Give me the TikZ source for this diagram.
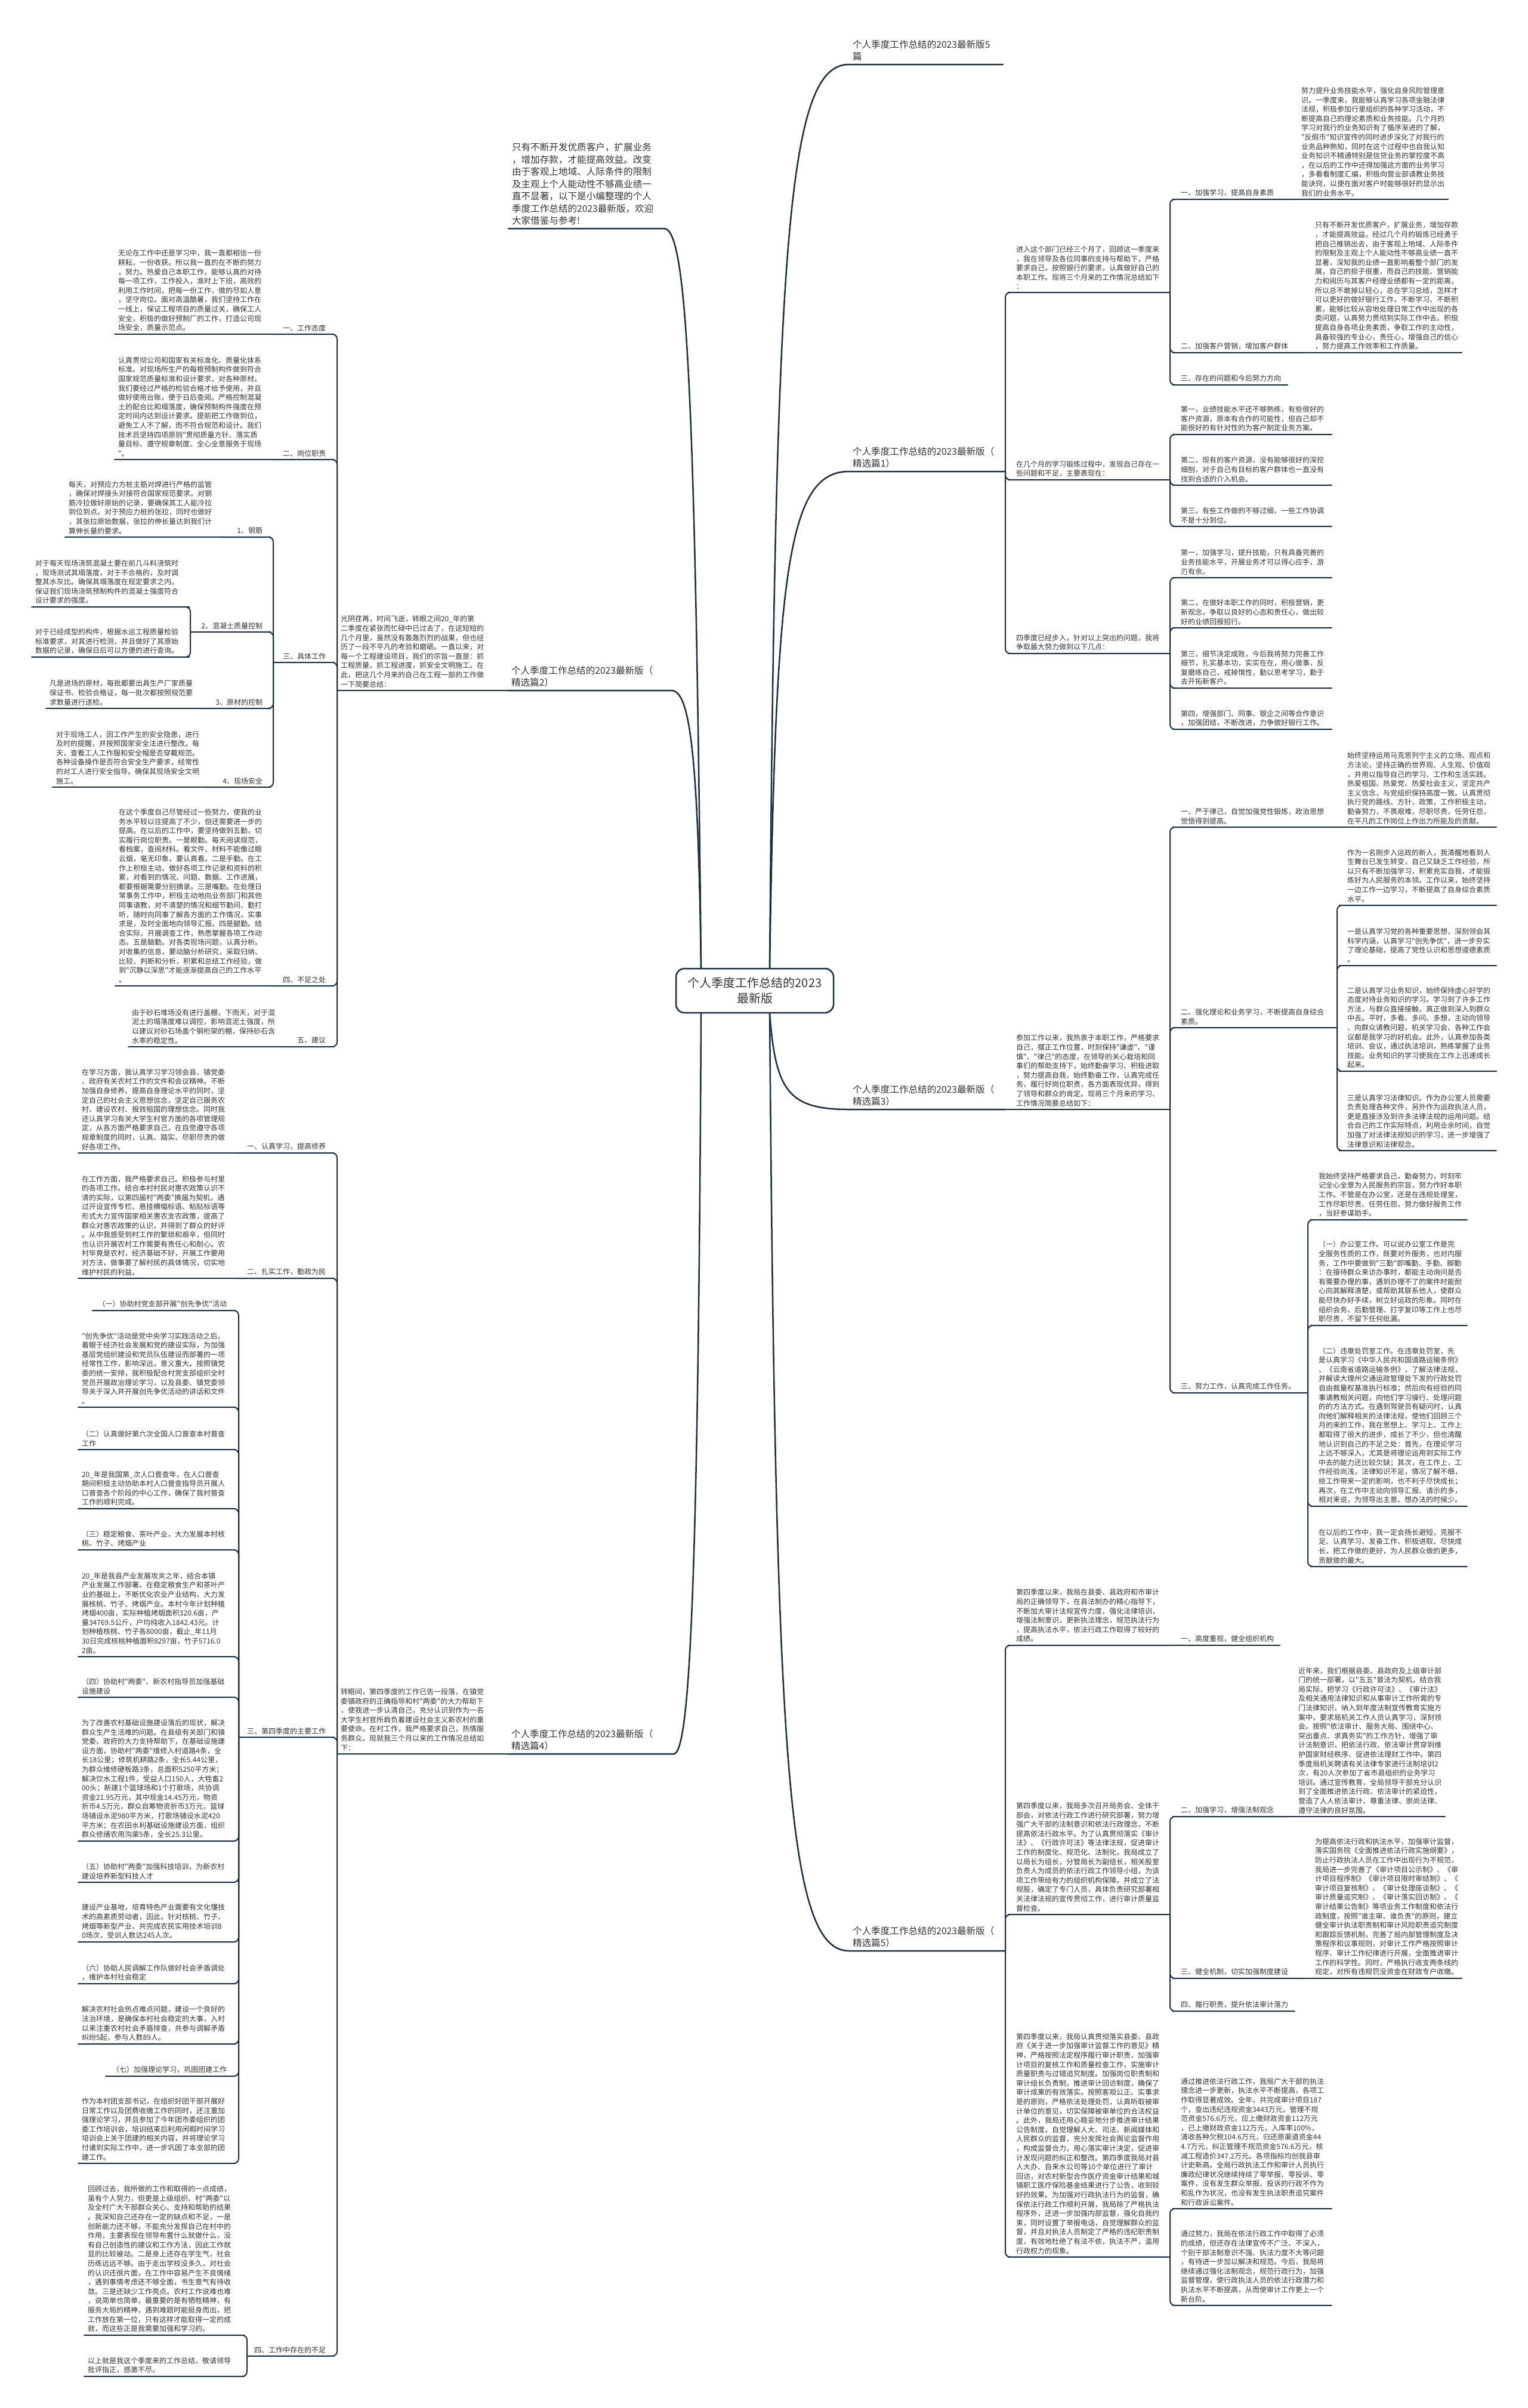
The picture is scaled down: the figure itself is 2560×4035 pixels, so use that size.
\documentclass[tikz,border=0pt]{standalone}
\usepackage{fontspec}
\newfontfamily\cjk{Noto Sans CJK SC}
\definecolor{branchline}{HTML}{1C2E3D}
\definecolor{notetext}{HTML}{333333}
\newcommand{\notefont}{\cjk\fontsize{12pt}{15.6pt}\selectfont}
\newcommand{\headfont}{\cjk\fontsize{15.6pt}{20.5pt}\selectfont}
\newcommand{\rootfont}{\cjk\fontsize{20pt}{26pt}\selectfont}
\begin{document}
\begin{tikzpicture}[x=1pt,y=-1pt,
  note/.style={font=\notefont,text=notetext,align=left,inner xsep=6pt,inner ysep=5pt,outer sep=0pt},
  rnote/.style={note,anchor=south west},
  lnote/.style={note,anchor=south east},
  rhead/.style={rnote,font=\headfont,inner ysep=6pt},
  lhead/.style={lnote,font=\headfont,inner ysep=6pt},
  root/.style={draw=branchline,line width=2.5pt,rounded corners=14pt,fill=white,font=\rootfont,text=notetext,align=center,minimum width=264pt,minimum height=74pt},
  link/.style={draw=branchline,line width=2pt,rounded corners=8pt,line cap=round},
  trunk/.style={draw=branchline,line width=2.5pt,line cap=round}
]
\fill[white] (0,0) rectangle (2560,4035);
\useasboundingbox (0,0) rectangle (2560,4035);

% centre
\node[root] (root) at (1265,1660) {个人季度工作总结的2023\\最新版};

% ---- right side ----
\node[rhead,text width=246pt] (top5) at (1423,108) {个人季度工作总结的2023最新版5\\篇};
\node[rhead,text width=250pt] (sel1) at (1423,790) {个人季度工作总结的2023最新版（\\精选篇1）};
\node[rhead,text width=250pt] (sel3) at (1423,1859) {个人季度工作总结的2023最新版（\\精选篇3）};
\node[rhead,text width=250pt] (sel5) at (1423,3269) {个人季度工作总结的2023最新版（\\精选篇5）};

% 精选篇1
\node[rnote,text width=252pt] (a1) at (1697,490) {进入这个部门已经三个月了，回顾这一季度来\\，我在领导及各位同事的支持与帮助下，严格\\要求自己，按照银行的要求，认真做好自己的\\本职工作。现将三个月来的工作情况总结如下\\：};
\node[rnote,text width=182pt] (a1x) at (1973,334) {一、加强学习，提高自身素质};
\node[rnote,text width=240pt] (a1xd) at (2175,334) {努力提升业务技能水平，强化自身风险管理意\\识。一季度来，我能够认真学习各项金融法律\\法规，积极参加行里组织的各种学习活动，不\\断提高自己的理论素质和业务技能。几个月的\\学习对我行的业务知识有了循序渐进的了解，\\"反假币"知识宣传的同时进步深化了对我行的\\业务品种熟知，同时在这个过程中也自我认知\\业务知识不精通特别是信贷业务的掌控度不高\\，在以后的工作中还得加强这方面的业务学习\\，多看看制度汇编，积极向营业部请教业务技\\能诀窍，以便在面对客户时能够很好的显示出\\我们的业务水平。};
\node[rnote,text width=202pt] (a1y) at (1973,591) {二、加强客户营销，增加客户群体};
\node[rnote,text width=240pt] (a1yd) at (2198,591) {只有不断开发优质客户，扩展业务，增加存款\\，才能提高效益。经过几个月的锻炼已经勇于\\把自己推销出去，由于客观上地域、人际条件\\的限制及主观上个人能动性不够高业绩一直不\\显著，深知我的业绩一直影响着整个部门的发\\展，自己的担子很重，而自己的技能、营销能\\力和阅历与其客户经理业绩都有一定的距离，\\所以总不敢掉以轻心，总在学习总结，怎样才\\可以更好的做好银行工作，不断学习、不断积\\累，能够比较从容地处理日常工作中出现的各\\类问题，认真努力贯彻到实际工作中去。积极\\提高自身各项业务素质，争取工作的主动性，\\具备较强的专业心，责任心，增强自己的信心\\，努力提高工作效率和工作质量。};
\node[rnote,text width=173pt] (a1z) at (1973,645) {三、存在的问题和今后努力方向};
\node[rnote,text width=252pt] (a2) at (1697,804) {在几个月的学习锻炼过程中，发现自己存在一\\些问题和不足，主要表现在：};
\node[rnote,text width=247pt] (a2x) at (1973,728) {第一，业绩技能水平还不够熟练，有些很好的\\客户资源，原本有合作的可能性，但自己却不\\能很好的有针对性的为客户制定业务方案。};
\node[rnote,text width=247pt] (a2y) at (1973,813) {第二，现有的客户资源，没有能够很好的深挖\\细刨，对于自己有目标的客户群体也一直没有\\找到合适的介入机会。};
\node[rnote,text width=247pt] (a2z) at (1973,882) {第三，有些工作做的不够过细，一些工作协调\\不是十分到位。};
\node[rnote,text width=252pt] (a3) at (1697,1095) {四季度已经步入，针对以上突出的问题，我将\\争取最大努力做到以下几点：};
\node[rnote,text width=247pt] (a3w) at (1973,968) {第一，加强学习，提升技能，只有具备完善的\\业务技能水平，开展业务才可以得心应手，游\\刃有余。};
\node[rnote,text width=247pt] (a3x) at (1973,1052) {第二，在做好本职工作的同时，积极营销，更\\新观念，争取以良好的心态和责任心，做出较\\好的业绩回报招行。};
\node[rnote,text width=247pt] (a3y) at (1973,1153) {第三，细节决定成败，今后我将努力完善工作\\细节，扎实基本功，实实在在，用心做事，反\\复磨练自己，戒掉惰性，勤以思考学习，勤于\\去开拓新客户。};
\node[rnote,text width=247pt] (a3z) at (1973,1222) {第四，增强部门、同事、银企之间等合作意识\\，加强团结，不断改进，力争做好银行工作。};

% 精选篇3
\node[rnote,text width=252pt] (c1) at (1697,1859) {参加工作以来，我热衷于本职工作，严格要求\\自己，摆正工作位置，时刻保持"谦虚"、"谨\\慎"、"律己"的态度，在领导的关心栽培和同\\事们的帮助支持下，始终勤奋学习、积极进取\\，努力提高自我，始终勤奋工作，认真完成任\\务，履行好岗位职责，各方面表现优异，得到\\了领导和群众的肯定。现将三个月来的学习、\\工作情况简要总结如下：};
\node[rnote,text width=262pt] (c1x) at (1973,1386) {一、严于律己，自觉加强党性锻炼，政治思想\\觉悟得到提高。};
\node[rnote,text width=244pt] (c1xd) at (2252,1386) {始终坚持运用马克思列宁主义的立场、观点和\\方法论，坚持正确的世界观、人生观、价值观\\，并用以指导自己的学习、工作和生活实践。\\热爱祖国、热爱党、热爱社会主义，坚定共产\\主义信念，与党组织保持高度一致。认真贯彻\\执行党的路线、方针、政策，工作积极主动，\\勤奋努力，不畏艰难，尽职尽责，任劳任怨，\\在平凡的工作岗位上作出力所能及的贡献。};
\node[rnote,text width=256pt] (c1y) at (1973,1722) {二、强化理论和业务学习，不断提高自身综合\\素质。};
\node[rnote,text width=244pt] (c1y1) at (2252,1517) {作为一名刚步入运政的新人，我清醒地看到人\\生舞台已发生转变，自己又缺乏工作经验，所\\以只有不断加强学习，积累充实自我，才能锻\\炼好为人民服务的本领。工作以来，始终坚持\\一边工作一边学习，不断提高了自身综合素质\\水平。};
\node[rnote,text width=244pt] (c1y2) at (2252,1618) {一是认真学习党的各种重要思想，深刻领会其\\科学内涵，认真学习"创先争优"，进一步夯实\\了理论基础，提高了党性认识和思想道德素质\\。};
\node[rnote,text width=244pt] (c1y3) at (2252,1795) {二是认真学习业务知识，始终保持虚心好学的\\态度对待业务知识的学习。学习到了许多工作\\方法，与群众直接接触，真正做到深入到群众\\中去。平时，多看、多问、多想，主动向领导\\、向群众请教问题，机关学习会、各种工作会\\议都是我学习的好机会。此外，认真参加各类\\培训、会议，通过执法培训，熟练掌握了业务\\技能。业务知识的学习使我在工作上迅速成长\\起来。};
\node[rnote,text width=244pt] (c1y4) at (2252,1928) {三是认真学习法律知识。作为办公室人员需要\\负责处理各种文件，另外作为运政执法人员，\\更是直接涉及到许多法律法规的运用问题。结\\合自己的工作实际特点，利用业余时间，自觉\\加强了对法律法规知识的学习，进一步增强了\\法律意识和法律观念。};
\node[rnote,text width=207pt] (c1z) at (1973,2334) {三、努力工作，认真完成工作任务。};
\node[rnote,text width=243pt] (c1z1) at (2204,2044) {我始终坚持严格要求自己，勤奋努力，时刻牢\\记全心全意为人民服务的宗旨，努力作好本职\\工作。不管是在办公室，还是在违规处理室，\\工作尽职尽责、任劳任怨，努力做好服务工作\\，当好参谋助手。};
\node[rnote,text width=243pt] (c1z2) at (2204,2221) {（一）办公室工作。可以说办公室工作是完\\全服务性质的工作，既要对外服务，也对内服\\务，工作中要做到"三勤"即嘴勤、手勤、脚勤\\：在接待群众来访办事时，都能主动询问是否\\有需要办理的事，遇到办理不了的案件时能耐\\心向其解释清楚，或帮助其联系他人，使群众\\能尽快办好手续，树立好运政的形象。同时在\\组织会务、后勤管理、打字复印等工作上也尽\\职尽责，不留下任何纰漏。};
\node[rnote,text width=243pt] (c1z3) at (2204,2524) {（二）违章处罚室工作。在违章处罚室，先\\是认真学习《中华人民共和国道路运输条例》\\、《云南省道路运输条例》，了解法律法规，\\并解读大理州交通运政管理处下发的行政处罚\\自由裁量权基准执行标准；然后向有经验的同\\事请教相关问题，向他们学习操行、处理问题\\的的方法方式。在遇到驾驶员有疑问时，认真\\向他们解释相关的法律法规，使他们回顾三个\\月的来的工作，我在思想上、学习上、工作上\\都取得了很大的进步，成长了不少，但也清醒\\地认识到自己的不足之处：首先，在理论学习\\上远不够深入，尤其是将理论运用到实际工作\\中去的能力还比较欠缺；其次，在工作上，工\\作经验尚浅，法律知识不足，情况了解不细，\\给工作带来一定的影响，也不利于尽快成长；\\再次，在工作中主动向领导汇报、请示的多，\\相对来说，为领导出主意、想办法的时候少。};
\node[rnote,text width=243pt] (c1z4) at (2204,2625) {在以后的工作中，我一定会扬长避短，克服不\\足、认真学习、发奋工作、积极进取、尽快成\\长，把工作做的更好，为人民群众做的更多，\\贡献做的最大。};

% 精选篇5
\node[rnote,text width=252pt] (e1) at (1697,2757) {第四季度以来，我局在县委、县政府和市审计\\局的正确领导下，在县法制办的精心指导下，\\不断加大审计法规宣传力度，强化法律培训，\\增强法制意识，更新执法理念，规范执法行为\\，提高执法水平，依法行政工作取得了较好的\\成绩。};
\node[rnote,text width=160pt] (e1x) at (1973,2757) {一、高度重视，健全组织机构};
\node[rnote,text width=252pt] (e2) at (1697,3208) {第四季度以来，我局多次召开局务会、全体干\\部会，对依法行政工作进行研究部署，努力增\\强广大干部的法制意识和依法行政理念，不断\\提高依法行政水平。为了认真贯彻落实《审计\\法》、《行政许可法》等法律法规，促进审计\\工作的制度化、规范化、法制化，我局成立了\\以局长为组长，分管局长为副组长，相关股室\\负责人为成员的依法行政工作领导小组，为该\\项工作带给有力的组织机构保障。并成立了法\\规股，确定了专门人员，具体负责研究部署相\\关法律法规的宣传贯彻工作，进行审计质量监\\督检查。};
\node[rnote,text width=175pt] (e2x) at (1973,3044) {二、加强学习，增强法制观念};
\node[rnote,text width=240pt] (e2xd) at (2170,3044) {近年来，我们根据县委、县政府及上级审计部\\门的统一部署，以"五五"普法为契机，结合我\\局实际，把学习《行政许可法》、《审计法》\\及相关通用法律知识和从事审计工作所需的专\\门法律知识，纳入到年度法制宣传教育实施方\\案中，要求局机关工作人员认真学习，深刻领\\会。按照"依法审计、服务大局、围绕中心、\\突出重点、求真务实"的工作方针，增强了审\\计法制意识，把依法行政、依法审计贯穿到维\\护国家财经秩序、促进依法理财工作中。第四\\季度局机关聘请有关法律专家进行法制培训2\\次，有20人次参加了省市县组织的业务学习\\培训。通过宣传教育，全局领导干部充分认识\\到了全面推进依法行政、依法审计的紧迫性，\\营造了人人依法审计、尊重法律、崇尚法律、\\遵守法律的良好氛围。};
\node[rnote,text width=202pt] (e2y) at (1973,3315) {三、健全机制，切实加强制度建设};
\node[rnote,text width=240pt] (e2yd) at (2198,3315) {为提高依法行政和执法水平，加强审计监督，\\落实国务院《全面推进依法行政实施纲要》，\\防止行政执法人员在工作中出现行为不规范，\\我局进一步完善了《审计项目公示制》、《审\\计项目程序制》《审计项目限时审结制》、《\\审计项目复核制》、《审计处理座谈制》、《\\审计质量追究制》、《审计落实回访制》、《\\审计结果公告制》等项业务工作制度和依法行\\政制度，按照"谁主审、谁负责"的原则，建立\\健全审计执法职责制和审计风险职责追究制度\\和跟踪反馈机制，完善了局内部管理制度及决\\策程序和议事规则，对审计工作严格按照审计\\程序、审计工作纪律进行开展，全面推进审计\\工作的科学性。同时，严格执行收支两条线的\\规定，对所有违规罚没资金在财政专户收缴。};
\node[rnote,text width=185pt] (e2z) at (1973,3370) {四、履行职责，提升依法审计落力};
\node[rnote,text width=252pt] (e3) at (1697,3782) {第四季度以来，我局认真贯彻落实县委、县政\\府《关于进一步加强审计监督工作的意见》精\\神，严格按照法定程序履行审计职责，加强审\\计项目的复核工作和质量检查工作，实施审计\\质量职责与过错追究制度。加强岗位职责制和\\审计组长负责制，推进审计回访制度，确保了\\审计成果的有效落实。按照客观公正、实事求\\是的原则，严格依法处理处罚，认真听取被审\\计单位的意见，切实保障被审单位的合法权益\\。此外，我局还用心稳妥地分步推进审计结果\\公告制度，自觉理解人大、司法、新闻媒体和\\人民群众的监督，充分发挥社会舆论监督作用\\，构成监督合力，用心落实审计决定，促进审\\计发现问题的纠正和整改。第四季度我局对县\\人大办、自来水公司等10个单位进行了审计\\回访，对农村新型合作医疗资金审计结果和城\\镇职工医疗保险基金结果进行了公告，收到较\\好的效果。为加强对行政执法行为的监督，确\\保依法行政工作顺利开展，我局除了严格执法\\程序外，还进一步加强内部监督，强化自我约\\束，同时设置了举报电话，自觉理解群众的监\\督，并且对执法人员制定了严格的违纪职责制\\度，有效地杜绝了有法不依，执法不严，滥用\\行政权力的现象。};
\node[rnote,text width=247pt] (e3x) at (1973,3701) {通过推进依法行政工作，我局广大干部的执法\\理念进一步更新，执法水平不断提高，各项工\\作取得显著成效。全年，共完成审计项目187\\个，查出违纪违规资金3443万元，管理不规\\范资金576.6万元，应上缴财政资金112万元\\，已上缴财政资金112万元，入库率100\%，\\清收各种欠税104.6万元，归还原渠道资金44\\4.7万元，纠正管理不规范资金576.6万元，核\\减工程造价347.2万元。各项指标均创我县审\\计史新高。全局行政执法工作和审计人员执行\\廉政纪律状况继续持续了零举报、零投诉、零\\案件，没有发生群众举报、投诉的行政不作为\\和乱作为状况，也没有发生执法职责追究案件\\和行政诉讼案件。};
\node[rnote,text width=247pt] (e3y) at (1973,3863) {通过努力，我局在依法行政工作中取得了必须\\的成绩，但还存在法律宣传不广泛、不深入，\\个别干部法制意识不强、执法力度不大等问题\\，有待进一步加以解决和规范。今后，我局将\\继续通过强化法制观念，规范行政行为，加强\\监督管理，使行政执法人员的依法行政潜力和\\执法水平不断提高，从而使审计工作更上一个\\新台阶。};

% ---- left side ----
\node[lhead,text width=249pt] (intro) at (1113,383) {只有不断开发优质客户，扩展业务\\，增加存款，才能提高效益。改变\\由于客观上地域、人际条件的限制\\及主观上个人能动性不够高业绩一\\直不显著，以下是小编整理的个人\\季度工作总结的2023最新版，欢迎\\大家借鉴与参考!};
\node[lhead,text width=262pt] (sel2) at (1125,1157) {个人季度工作总结的2023最新版（\\精选篇2）};
\node[lhead,text width=266pt] (sel4) at (1129,2939) {个人季度工作总结的2023最新版（\\精选篇4）};

% 精选篇2
\node[lnote,text width=248pt] (g1) at (825,1157) {光阴荏苒，时间飞逝，转眼之间20\_年的第\\二季度在紧张而忙碌中已过去了，在这短短的\\几个月里，虽然没有轰轰烈烈的战果，但也经\\历了一段不平凡的考验和磨砺。一直以来，对\\每一个工程建设项目，我们的宗旨一直是：抓\\工程质量，抓工程进度，抓安全文明施工。在\\此，把这几个月来的自己在工程一部的工作做\\一下简要总结：};
\node[lnote,text width=82pt,align=right] (g1a) at (552,560) {一、工作态度};
\node[lnote,text width=246pt] (g1ad) at (450,560) {无论在工作中还是学习中，我一直都相信一份\\耕耘，一份收获。所以我一直的在不断的努力\\，努力。热爱自己本职工作，能够认真的对待\\每一项工作，工作投入，准时上下班，高效的\\利用工作时间，把每一份工作，做的尽如人意\\，坚守岗位。面对高温酷暑，我们坚持工作在\\一线上，保证工程项目的质量过关，确保工人\\安全，积极的做好预制厂的工作，打造公司现\\场安全，质量示范点。};
\node[lnote,text width=82pt,align=right] (g1b) at (552,770) {二、岗位职责};
\node[lnote,text width=246pt] (g1bd) at (450,770) {认真贯彻公司和国家有关标准化、质量化体系\\标准。对现场所生产的每根预制构件做到符合\\国家规范质量标准和设计要求，对各种原材。\\我们要经过严格的检验合格才给予使用，并且\\做好使用台账，便于日后查阅。严格控制混凝\\土的配合比和塌落度，确保预制构件强度在预\\定时间内达到设计要求。提前把工作做到位，\\避免工人不了解，而不符合规范和设计。我们\\技术员坚持四项原则"贯彻质量方针、落实质\\量目标、遵守规章制度、全心全意服务于现场\\"。};
\node[lnote,text width=82pt,align=right] (g1c) at (552,1110) {三、具体工作};
\node[lnote,text width=64pt,align=right] (g1c1) at (446,900) {1、钢筋};
\node[lnote,text width=245pt] (g1c1d) at (366,900) {每天，对预应力方桩主筋对焊进行严格的监管\\，确保对焊接头对接符合国家规范要求。对钢\\筋冷拉做好原始的记录，要确保其工人能冷拉\\到位到点。对于预应力桩的张拉，同时也做好\\，其张拉原始数据，张拉的伸长量达到我们计\\算伸长量的要求。};
\node[lnote,text width=115pt,align=right] (g1c2) at (446,1059) {2、混凝土质量控制};
\node[lnote,text width=245pt] (g1c2a) at (310,1017) {对于每天现场浇筑混凝土要在前几斗料浇筑时\\，现场测试其塌落度，对于不合格的，及时调\\整其水灰比。确保其塌落度在规定要求之内。\\保证我们现场浇筑预制构件的混凝土强度符合\\设计要求的强度。};
\node[lnote,text width=245pt] (g1c2b) at (310,1101) {对于已经成型的构件，根据水运工程质量检验\\标准要求，对其进行检测，并且做好了其原始\\数据的记录，确保日后可以方便的进行查询。};
\node[lnote,text width=99pt,align=right] (g1c3) at (446,1187) {3、原材的控制};
\node[lnote,text width=241pt] (g1c3d) at (330,1187) {凡是进场的原材，每批都要出具生产厂家质量\\保证书、检验合格证，每一批次都按照规范要\\求数量进行送检。};
\node[lnote,text width=90pt,align=right] (g1c4) at (446,1319) {4、现场安全};
\node[lnote,text width=240pt] (g1c4d) at (340,1319) {对于现场工人，因工作产生的安全隐患，进行\\及时的提醒，并按照国家安全法进行整改。每\\天，查看工人工作服和安全帽是否穿戴规范。\\各种设备操作是否符合安全生产要求，经常性\\的对工人进行安全指导。确保其现场安全文明\\施工。};
\node[lnote,text width=84pt,align=right] (g1d) at (552,1652) {四、不足之处};
\node[lnote,text width=245pt] (g1dd) at (450,1652) {在这个季度自己尽管经过一些努力，使我的业\\务水平较以往提高了不少，但还需要进一步的\\提高。在以后的工作中，要坚持做到五勤，切\\实履行岗位职责。一是眼勤。每天阅读规范，\\看档案，查阅材料。看文件、材料不能像过眼\\云烟，毫无印象，要认真看。二是手勤。在工\\作上积极主动，做好各项工作记录和资料的积\\累，对看到的情况、问题、数据、工作进展，\\都要根据需要分别摘录。三是嘴勤。在处理日\\常事务工作中，积极主动地向业务部门和其他\\同事请教，对不清楚的情况和细节勤问、勤打\\听，随时向同事了解各方面的工作情况，实事\\求是，及时全面地向领导汇报。四是腿勤。结\\合实际，开展调查工作，熟悉掌握各项工作动\\态。五是脑勤。对各类现场问题，认真分析。\\对收集的信息，要动脑分析研究，采取归纳、\\比较、判断和分析，积累和总结工作经验，做\\到"沉静以深思"才能逐渐提高自己的工作水平\\。};
\node[lnote,text width=68pt,align=right] (g1e) at (552,1754) {五、建议};
\node[lnote,text width=240pt] (g1ed) at (467,1754) {由于砂石堆场没有进行盖棚，下雨天，对于混\\泥土的塌落度难以调控，影响混泥土强度，所\\以建议对砂石场盖个钢桁架的棚，保持砂石含\\水率的稳定性。};

% 精选篇4
\node[lnote,text width=248pt] (h1) at (825,2939) {转眼间，第四季度的工作已告一段落，在镇党\\委镇政府的正确指导和村"两委"的大力帮助下\\，使我进一步认清自己，充分认识到作为一名\\大学生村官所肩负着建设社会主义新农村的重\\要使命。在村工作，我严格要求自己，热情服\\务群众。现就我三个月以来的工作情况总结如\\下：};
\node[lnote,text width=142pt,align=right] (h1a) at (552,1932) {一、认真学习，提高修养};
\node[lnote,text width=245pt] (h1ad) at (388,1932) {在学习方面，我认真学习学习领会县、镇党委\\、政府有关农村工作的文件和会议精神。不断\\加强自身修养、提高自身理论水平的同时，坚\\定自己的社会主义思想信念，坚定自己服务农\\村、建设农村、报效祖国的理想信念。同时我\\还认真学习有关大学生村官方面的各项管理规\\定，从各方面严格要求自己，在自觉遵守各项\\规章制度的同时，认真、踏实、尽职尽责的做\\好各项工作。};
\node[lnote,text width=142pt,align=right] (h1b) at (552,2142) {二、扎实工作，勤政为民};
\node[lnote,text width=245pt] (h1bd) at (388,2142) {在工作方面，我严格要求自己。积极参与村里\\的各项工作。结合本村村民对惠农政策认识不\\清的实际，以第四届村"两委"换届为契机，通\\过开设宣传专栏、悬挂横幅标语、粘贴标语等\\形式大力宣传国家相关惠农支农政策，提高了\\群众对惠农政策的认识，并得到了群众的好评\\。从中我感受到村工作的繁琐和艰辛，但同时\\也认识开展农村工作需要有责任心和耐心。农\\村毕竟是农村，经济基础不好，开展工作要用\\对方法，做事要了解村民的具体情况，切实地\\维护村民的利益。};
\node[lnote,text width=140pt,align=right] (h1c) at (552,2911) {三、第四季度的主要工作};
\node[lnote,text width=219pt,align=right] (h1c1) at (386,2196) {（一）协助村党支部开展"创先争优"活动};
\node[lnote,text width=243pt] (h1c2) at (386,2358) {"创先争优"活动是党中央学习实践活动之后，\\着眼于经济社会发展和党的建设实际，为加强\\基层党组织建设和党员队伍建设而部署的一项\\经常性工作，影响深远，意义重大。按照镇党\\委的统一安排，我积极配合村党支部组织全村\\党员开展政治理论学习，以及县委、镇党委领\\导关于深入并开展创先争优活动的讲话和文件\\。};
\node[lnote,text width=243pt] (h1c3) at (386,2429) {（二）认真做好第六次全国人口普查本村普查\\工作};
\node[lnote,text width=243pt] (h1c4) at (386,2528) {20\_年是我国第\_次人口普查年，在人口普查\\期间积极主动协助本村人口普查指导员开展人\\口普查各个阶段的中心工作，确保了我村普查\\工作的顺利完成。};
\node[lnote,text width=243pt] (h1c5) at (386,2597) {（三）稳定粮食、茶叶产业，大力发展本村核\\桃、竹子、烤烟产业};
\node[lnote,text width=243pt] (h1c6) at (386,2776) {20\_年是我县产业发展攻关之年，结合本镇\\产业发展工作部署。在稳定粮食生产和茶叶产\\业的基础上，不断优化农业产业结构，大力发\\展核桃、竹子、烤烟产业。本村今年计划种植\\烤烟400亩，实际种植烤烟面积320.6亩，产\\量34769.5公斤，户均纯收入1842.43元。计\\划种植核桃、竹子各8000亩，截止\_年11月\\30日完成核桃种植面积8297亩，竹子5716.0\\2亩。};
\node[lnote,text width=243pt] (h1c7) at (386,2844) {（四）协助村"两委"、新农村指导员加强基础\\设施建设};
\node[lnote,text width=243pt] (h1c8) at (386,3085) {为了改善农村基础设施建设落后的现状，解决\\群众生产生活难的问题。在县级有关部门和镇\\党委、政府的大力支持帮助下，在基础设施建\\设方面，协助村"两委"维修入村道路4条，全\\长18公里；修筑机耕路2条，全长5.44公里，\\为群众维修硬板路3条，总面积5250平方米；\\解决饮水工程1件，受益人口150人，大牲畜2\\00头；新建1个篮球场和1个打歌场，共协调\\资金21.95万元，其中现金14.45万元，物资\\折币4.5万元，群众自筹物资折币3万元，篮球\\场铺设水泥980平方米，打歌场铺设水泥420\\平方米；在农田水利基础设施建设方面，组织\\群众修缮农用沟渠5条，全长25.3公里。};
\node[lnote,text width=243pt] (h1c9) at (386,3154) {（五）协助村"两委"加强科技培训，为新农村\\建设培养新型科技人才};
\node[lnote,text width=243pt] (h1c10) at (386,3254) {建设产业基地，培育特色产业需要有文化懂技\\术的高素质劳动者，因此，针对核桃、竹子、\\烤烟等新型产业，共完成农民实用技术培训8\\0场次，受训人数达245人次。};
\node[lnote,text width=243pt] (h1c11) at (386,3324) {（六）协助人民调解工作队做好社会矛盾调处\\，维护本村社会稳定};
\node[lnote,text width=243pt] (h1c12) at (386,3425) {解决农村社会热点难点问题，建设一个良好的\\法治环境，是确保本村社会稳定的大事，入村\\以来注重农村社会矛盾排查，共参与调解矛盾\\纠纷5起，参与人数89人。};
\node[lnote,text width=197pt,align=right] (h1c13) at (386,3479) {（七）加强理论学习，巩固团建工作};
\node[lnote,text width=243pt] (h1c14) at (386,3625) {作为本村团支部书记，在组织好团干部开展好\\日常工作以及团费收缴工作的同时，还注重加\\强理论学习，并且参加了今年团市委组织的团\\委工作培训会，培训结束后利用闲暇时间学习\\培训会上关于团建的相关内容，并将理论学习\\付诸到实际工作中，进一步巩固了本支部的团\\建工作。};
\node[lnote,text width=126pt,align=right] (h1d) at (552,3948) {四、工作中存在的不足};
\node[lnote,text width=249pt] (h1d1) at (402,3913) {回顾过去，我所做的工作和取得的一点成绩，\\虽有个人努力，但更是上级组织、村"两委"以\\及全村广大干部群众关心、支持和帮助的结果\\。我深知自己还存在一定的缺点和不足，一是\\创新能力还不够，不能充分发挥自己在村中的\\作用，主要表现在领导布置什么就做什么，没\\有自己创造性的建议和工作方法，因此工作就\\显的比较被动。二是身上还存在学生气，社会\\历练远远不够。由于走出学校没多久，对社会\\的认识还很片面，在工作中容易产生不良情绪\\，遇到事情考虑还不够全面，书生意气有待收\\敛。三是还缺少工作亮点。农村工作说难也难\\，说简单也简单，最重要的是有牺牲精神，有\\服务大局的精神，遇到难题时能挺身而出，把\\工作放在第一位，只有这样才能取得一定的成\\就，而这些正是我需要加强和学习的。};
\node[lnote,text width=249pt] (h1d2) at (402,3982) {以上就是我这个季度来的工作总结，敬请领导\\批评指正，感激不尽。};

% main branches from the centre
\draw[trunk] ([xshift=25pt]root.north) .. controls (1300,400) and (1320,108) .. (top5.south west) -- (top5.south east);
\draw[trunk] ([xshift=25pt]root.north) .. controls (1300,957) and (1320,790) .. (sel1.south west) -- (sel1.south east);
\draw[trunk] ([xshift=25pt]root.south) .. controls (1300,1827) and (1320,1859) .. (sel3.south west) -- (sel3.south east);
\draw[trunk] ([xshift=25pt]root.south) .. controls (1300,2955) and (1320,3269) .. (sel5.south west) -- (sel5.south east);
\draw[trunk] ([xshift=-90pt]root.north) .. controls (1165,631) and (1150,383) .. (intro.south east) -- (intro.south west);
\draw[trunk] ([xshift=-90pt]root.north) .. controls (1170,1250) and (1155,1157) .. (sel2.south east) -- (sel2.south west);
\draw[trunk] ([xshift=-90pt]root.south) .. controls (1170,2691) and (1155,2939) .. (sel4.south east) -- (sel4.south west);

% right-hand links
\foreach \p/\c in {sel1/a1,sel1/a2,sel1/a3,a1/a1x,a1/a1y,a1/a1z,a2/a2x,a2/a2y,a2/a2z,
    a3/a3w,a3/a3x,a3/a3y,a3/a3z,c1/c1x,c1/c1y,c1/c1z,c1y/c1y1,c1y/c1y2,c1y/c1y3,c1y/c1y4,
    c1z/c1z1,c1z/c1z2,c1z/c1z3,c1z/c1z4,sel5/e1,sel5/e2,sel5/e3,e2/e2x,e2/e2y,e2/e2z,e3/e3x,e3/e3y}
  \draw[link] (\p.south east) |- (\c.south west) -- (\c.south east);
\foreach \p/\c in {sel3/c1,a1x/a1xd,a1y/a1yd,c1x/c1xd,e1/e1x,e2x/e2xd,e2y/e2yd}
  \draw[link] (\p.south east) -- (\c.south east);

% left-hand links
\foreach \p/\c in {g1/g1a,g1/g1b,g1/g1c,g1/g1d,g1/g1e,g1c/g1c1,g1c/g1c2,g1c/g1c3,g1c/g1c4,
    g1c2/g1c2a,g1c2/g1c2b,h1/h1a,h1/h1b,h1/h1c,h1/h1d,h1c/h1c1,h1c/h1c2,h1c/h1c3,h1c/h1c4,
    h1c/h1c5,h1c/h1c6,h1c/h1c7,h1c/h1c8,h1c/h1c9,h1c/h1c10,h1c/h1c11,h1c/h1c12,h1c/h1c13,
    h1c/h1c14,h1d/h1d1,h1d/h1d2}
  \draw[link] (\p.south west) |- (\c.south east) -- (\c.south west);
\foreach \p/\c in {sel2/g1,sel4/h1,g1a/g1ad,g1b/g1bd,g1c1/g1c1d,g1c3/g1c3d,g1c4/g1c4d,
    g1d/g1dd,g1e/g1ed,h1a/h1ad,h1b/h1bd}
  \draw[link] (\p.south west) -- (\c.south west);
\end{tikzpicture}
\end{document}
